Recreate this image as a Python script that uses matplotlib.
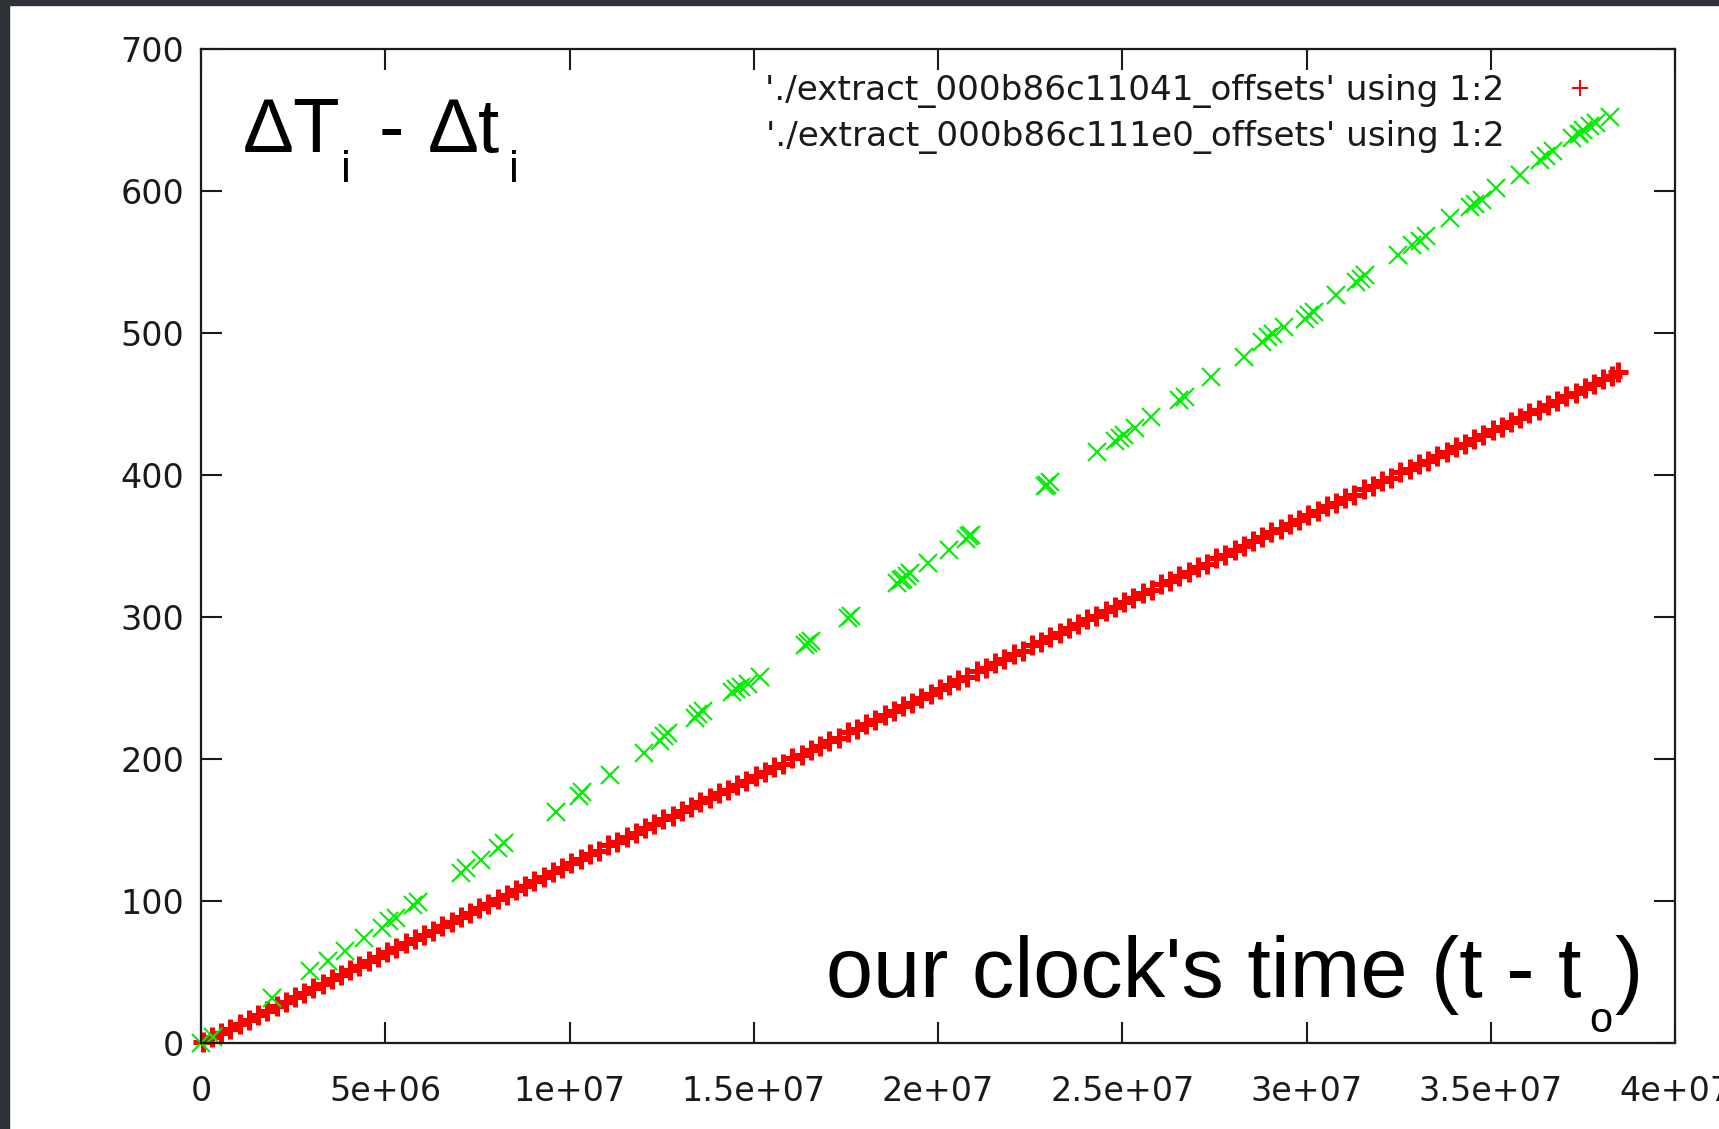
import matplotlib
matplotlib.use("Agg")
import matplotlib.pyplot as plt
from matplotlib.lines import Line2D
from matplotlib.patches import Rectangle

W, H = 1719, 1129

# red series: ./extract_000b86c11041_offsets  (x in units of 1e6)
red_x = [0.05, 0.3, 0.55, 0.8, 1.05, 1.3, 1.55, 1.8, 2.05, 2.3,
         2.55, 2.8, 3.05, 3.3, 3.55, 3.8, 4.05, 4.3, 4.55, 4.8,
         5.05, 5.3, 5.55, 5.8, 6.05, 6.3, 6.55, 6.8, 7.05, 7.3,
         7.55, 7.8, 8.05, 8.3, 8.55, 8.8, 9.05, 9.3, 9.55, 9.8,
         10.05, 10.3, 10.55, 10.8, 11.05, 11.3, 11.55, 11.8, 12.05, 12.3,
         12.55, 12.8, 13.05, 13.3, 13.55, 13.8, 14.05, 14.3, 14.55, 14.8,
         15.05, 15.3, 15.55, 15.8, 16.05, 16.3, 16.55, 16.8, 17.05, 17.3,
         17.55, 17.8, 18.05, 18.3, 18.55, 18.8, 19.05, 19.3, 19.55, 19.8,
         20.05, 20.3, 20.55, 20.8, 21.05, 21.3, 21.55, 21.8, 22.05, 22.3,
         22.55, 22.8, 23.05, 23.3, 23.55, 23.8, 24.05, 24.3, 24.55, 24.8,
         25.05, 25.3, 25.55, 25.8, 26.05, 26.3, 26.55, 26.8, 27.05, 27.3,
         27.55, 27.8, 28.05, 28.3, 28.55, 28.8, 29.05, 29.3, 29.55, 29.8,
         30.05, 30.3, 30.55, 30.8, 31.05, 31.3, 31.55, 31.8, 32.05, 32.3,
         32.55, 32.8, 33.05, 33.3, 33.55, 33.8, 34.05, 34.3, 34.55, 34.8,
         35.05, 35.3, 35.55, 35.8, 36.05, 36.3, 36.55, 36.8, 37.05, 37.3,
         37.55, 37.8, 38.05, 38.3, 38.45]
red_y = [0.6, 3.9, 7.1, 10.0, 13.4, 16.2, 19.8, 22.5, 26.0, 28.9,
         32.3, 35.1, 38.6, 41.4, 44.9, 47.6, 51.2, 54.0, 57.5, 60.3,
         63.8, 66.6, 70.1, 73.0, 76.4, 79.2, 82.7, 85.5, 89.0, 91.8,
         95.3, 98.1, 101.6, 104.4, 107.9, 110.7, 114.2, 117.0, 120.5, 123.3,
         126.9, 129.4, 133.0, 135.5, 139.2, 141.6, 145.3, 147.8, 151.4, 153.9,
         157.5, 160.0, 163.7, 166.1, 169.8, 172.3, 175.9, 178.4, 182.0, 184.5,
         188.2, 190.6, 194.3, 196.8, 200.4, 202.9, 206.5, 209.0, 212.7, 215.1,
         218.8, 221.3, 224.9, 227.4, 231.0, 233.5, 237.2, 239.6, 243.3, 245.8,
         249.4, 251.9, 255.5, 258.0, 261.7, 264.1, 267.8, 270.3, 273.9, 276.4,
         280.0, 282.5, 286.2, 288.6, 292.3, 294.8, 298.4, 300.9, 304.5, 307.0,
         310.7, 313.1, 316.8, 319.3, 322.9, 325.4, 329.0, 331.5, 335.2, 337.6,
         341.3, 343.8, 347.4, 349.9, 353.5, 356.0, 359.7, 362.1, 365.8, 368.3,
         371.9, 374.3, 377.9, 380.3, 383.8, 386.2, 389.8, 392.2, 395.8, 398.2,
         401.8, 404.2, 407.8, 410.1, 413.7, 416.1, 419.7, 422.1, 425.7, 428.1,
         431.7, 434.1, 437.6, 440.0, 443.6, 446.0, 449.6, 452.0, 455.6, 458.0,
         461.6, 463.9, 467.5, 469.9, 472.3]

# green series: ./extract_000b86c111e0_offsets  (x in units of 1e6)
green_x = [0.0, 0.33, 1.93, 2.95, 3.44, 3.91, 4.43, 4.9, 5.11, 5.3, 5.75, 5.89,
           7.05, 7.2, 7.6, 8.05, 8.23, 9.63, 10.25, 10.35, 11.09,
           12.02, 12.45, 12.56, 12.68, 13.4, 13.5, 13.62,
           14.4, 14.52, 14.65, 14.85, 15.16, 16.4, 16.46, 16.55, 17.55, 17.65,
           18.9, 19.0, 19.05, 19.15, 19.25, 19.74, 20.31, 20.75, 20.83, 20.9,
           22.9, 22.96, 23.05, 24.32, 24.8, 24.94, 25.05, 25.35, 25.77,
           26.55, 26.69, 27.4, 28.3, 28.8, 28.95, 29.1, 29.4, 29.95, 30.08, 30.2,
           30.81, 31.35, 31.49, 31.6, 32.48, 32.85, 33.07, 33.25, 33.89,
           34.45, 34.57, 34.75, 35.15, 35.79, 36.35, 36.51, 36.7,
           37.2, 37.4, 37.5, 37.7, 37.85, 38.24]
green_y = [0.0, 4.5, 32, 51, 58, 65, 74, 81, 86, 88, 97, 99,
           120, 123, 129, 137, 141, 163, 174, 177, 189,
           204, 213, 216, 218, 229, 232, 234,
           247, 249, 251, 253, 258, 280, 282, 283, 299, 301,
           324, 326, 327, 329, 331, 338, 347, 355, 357, 358,
           392, 393, 395, 416, 424, 426, 428, 433, 441,
           453, 455, 469, 483, 494, 497, 499, 504, 510, 513, 515,
           527, 536, 538, 541, 555, 562, 565, 568, 581,
           589, 591, 594, 602, 611, 622, 625, 628,
           637, 640, 643, 646, 648, 652]

labels = ["'./extract_000b86c11041_offsets' using 1:2",
          "'./extract_000b86c111e0_offsets' using 1:2"]
x_ticks = [0, 5e6, 1e7, 1.5e7, 2e7, 2.5e7, 3e7, 3.5e7, 4e7]
x_ticklabels = ["0", "5e+06", "1e+07", "1.5e+07", "2e+07", "2.5e+07",
                "3e+07", "3.5e+07", "4e+07"]
y_ticks = [0, 100, 200, 300, 400, 500, 600, 700]

RED = "#ff0000"
GREEN = "#00ee00"
ink = "#1a1a1a"
plt.rcParams["font.family"] = ["DejaVu Sans"]

fig = plt.figure(figsize=(W / 100, H / 100), dpi=100)
fig.patch.set_facecolor("white")
ax = fig.add_axes([201 / W, 1 - 1043 / H, 1474 / W, 994 / H])

ax.plot([v * 1e6 for v in red_x], red_y, linestyle="none", marker="+",
        markersize=15, markeredgewidth=3.6, color=RED, clip_on=False)
ax.plot([v * 1e6 for v in green_x], green_y, linestyle="none", marker="x",
        markersize=13, markeredgewidth=1.5, color=GREEN, clip_on=False)

ax.set_xlim(0, 4e7)
ax.set_ylim(0, 700)
ax.set_xticks(x_ticks)
ax.set_xticklabels(x_ticklabels)
ax.set_yticks(y_ticks)
for sp in ax.spines.values():
    sp.set_linewidth(1.6)
    sp.set_color(ink)
ax.tick_params(direction="in", top=True, right=True, length=15, width=1.5,
               color=ink, labelsize=24, labelcolor=ink)
ax.tick_params(axis="x", pad=23)
ax.tick_params(axis="y", pad=12)

# key: text first, sample on the right
handles = [Line2D([], [], linestyle="none", marker="+", markersize=12,
                  markeredgewidth=1.5, color=RED),
           Line2D([], [], linestyle="none", marker="x", markersize=12,
                  markeredgewidth=1.5, color=GREEN)]
leg = ax.legend(handles, labels, loc="upper right",
                bbox_to_anchor=(1597 / W, 1 - 74 / H),
                bbox_transform=fig.transFigure, markerfirst=False,
                frameon=False, fontsize=24.7, numpoints=1, handlelength=1.0,
                handletextpad=1.7, labelspacing=0.34, borderpad=0,
                borderaxespad=0)
for t in leg.get_texts():
    t.set_color(ink)


def put(s, x, y, size):
    fig.text(x / W, 1 - y / H, s, fontsize=size, family="Liberation Sans",
             ha="left", va="baseline", color="black")


# ΔT_i - Δt_i
put("ΔT", 243, 152, 55)
put("i", 341, 182, 32)
put("-", 379, 152, 55)
put("Δt", 428, 152, 55)
put("i", 509, 182, 32)

# our clock's time (t - t_o)
put("our clock's time (t - t", 826, 997, 61)
put("o", 1589, 1032, 30)
put(")", 1614, 997, 61)

# dark window edge on the left and top
fig.add_artist(Rectangle((0, 0), 9 / W, 1, transform=fig.transFigure,
                         color="#2e3236", zorder=10))
fig.add_artist(Rectangle((0, 1 - 5 / H), 1, 5 / H, transform=fig.transFigure,
                         color="#2e3236", zorder=10))

fig.savefig("out.png", dpi=100)
